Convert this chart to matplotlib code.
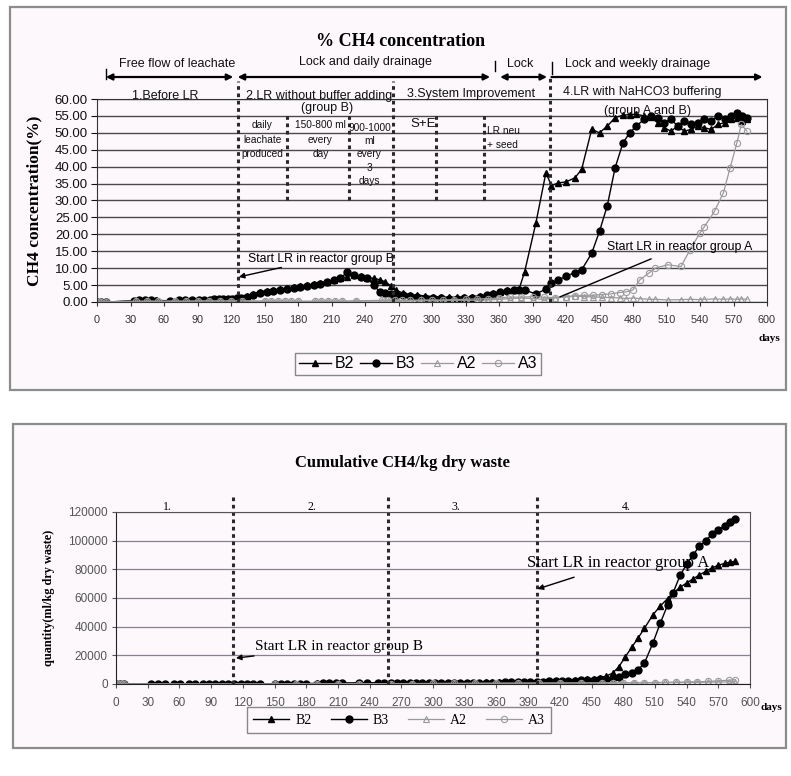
import matplotlib
matplotlib.use('Agg')
import matplotlib.pyplot as plt
from matplotlib.patches import Rectangle
from matplotlib.ticker import FormatStrFormatter

# ---- % CH4 concentration, reactors B2 / B3 (same sampling days) ----
days_b = [0, 4, 8, 33, 38, 43, 48, 53, 65, 73,
          79, 85, 91, 96, 101, 105, 109, 113, 117, 121,
          125, 129, 134, 140, 146, 152, 158, 164, 170, 176,
          182, 188, 194, 200, 206, 212, 218, 224, 230, 236,
          242, 248, 253, 258, 263, 268, 274, 280, 287, 294,
          301, 308, 315, 322, 329, 336, 343, 349, 355, 361,
          367, 373, 378, 383, 393, 402, 407, 413, 420, 428,
          434, 443, 450, 457, 464, 471, 477, 483, 490, 496,
          502, 508, 514, 520, 526, 532, 538, 544, 550, 556,
          562, 568, 573, 578, 582]
ch4_b2 = [0, 0, 0, 0.3, 0.4, 0.5, 0.4, 0.5, 0.3, 0.4,
          0.5, 0.5, 0.6, 0.6, 0.7, 0.7, 0.8, 0.8, 0.9, 1.0,
          1.0, 1.2, 1.8, 2.5, 3.0, 3.3, 3.6, 3.8, 4.0, 4.3,
          4.6, 4.9, 5.2, 5.6, 6.0, 6.5, 7.0, 7.5, 8.0, 7.6,
          7.2, 7.0, 6.6, 6.0, 4.8, 3.5, 2.6, 2.2, 2.0, 1.8,
          1.6, 1.5, 1.4, 1.4, 1.5, 1.6, 1.8, 2.2, 2.6, 3.0,
          3.4, 3.6, 3.8, 9.0, 23.3, 38.2, 34.4, 35.2, 35.5, 36.7,
          39.2, 51.0, 50.0, 52.0, 54.5, 55.2, 55.4, 55.5, 55.0, 54.6,
          53.0, 51.5, 50.5, 52.0, 50.5, 51.0, 52.0, 51.5, 51.0, 52.5,
          53.0, 54.0, 54.5, 53.5, 54.0]
ch4_b3 = [0, 0, 0, 0.3, 0.5, 0.6, 0.5, 0.4, 0.4, 0.5,
          0.5, 0.6, 0.6, 0.7, 0.7, 0.8, 0.8, 0.9, 0.9, 1.0,
          1.1, 1.3, 1.5, 2.0, 2.6, 3.0, 3.3, 3.6, 3.8, 4.1,
          4.4, 4.6, 5.0, 5.3, 5.8, 6.4, 7.0, 8.8, 8.0, 7.5,
          7.0, 5.0, 3.0, 2.6, 2.4, 2.2, 2.0, 1.8, 1.5, 1.3,
          1.2, 1.1, 1.0, 1.0, 1.1, 1.3, 1.6, 2.0, 2.5, 3.0,
          3.3, 3.5, 3.6, 3.5, 2.4, 3.8, 5.5, 6.5, 7.6, 8.7,
          9.5, 14.4, 20.9, 28.5, 39.7, 47.0, 50.0, 52.0, 54.0, 55.0,
          54.5, 53.0, 54.0, 52.0, 53.5, 52.5, 53.0, 54.0, 53.5, 55.0,
          54.0, 55.0, 56.0, 55.0, 54.5]

# ---- % CH4 concentration, reactors A2 / A3 ----
days_a = [0, 4, 8, 35, 45, 55, 70, 80, 90, 100,
          110, 120, 130, 150, 156, 162, 168, 174, 180, 195,
          201, 207, 213, 219, 232, 255, 261, 267, 273, 280,
          290, 300, 310, 320, 330, 340, 350, 360, 370, 380,
          390, 400, 410, 420, 428, 436, 444, 452, 460, 468,
          474, 480, 486, 494, 500, 511, 523, 531, 540, 544,
          553, 561, 567, 573, 577, 582]
ch4_a2 = [0, 0, 0, 0.2, 0.3, 0.2, 0.3, 0.2, 0.3, 0.3,
          0.3, 0.3, 0.3, 0.2, 0.2, 0.2, 0.2, 0.2, 0.2, 0.2,
          0.2, 0.2, 0.2, 0.2, 0.3, 0.3, 0.3, 0.3, 0.3, 0.4,
          0.4, 0.4, 0.4, 0.5, 0.5, 0.5, 0.6, 0.8, 1.0, 1.2,
          1.0, 0.8, 1.2, 1.5, 1.8, 1.6, 1.5, 1.4, 1.3, 1.2,
          1.0, 1.2, 1.0, 0.8, 0.8, 0.6, 0.7, 0.8, 0.7, 0.8,
          0.9, 0.8, 0.9, 0.8, 0.9, 0.8]
ch4_a3 = [0, 0, 0, 0.2, 0.2, 0.2, 0.2, 0.2, 0.3, 0.3,
          0.3, 0.3, 0.4, 0.2, 0.2, 0.2, 0.2, 0.2, 0.2, 0.2,
          0.2, 0.2, 0.2, 0.2, 0.3, 0.5, 0.6, 0.5, 0.5, 0.5,
          0.6, 0.6, 0.6, 0.7, 0.8, 0.9, 1.0, 1.2, 1.5, 1.4,
          1.6, 1.4, 1.3, 1.6, 1.8, 2.0, 2.0, 2.2, 2.4, 2.8,
          3.0, 3.6, 6.5, 8.5, 10.0, 11.0, 10.5, 15.4, 20.4, 22.3,
          26.8, 32.3, 39.7, 47.0, 52.5, 50.5]

# ---- cumulative CH4 (ml/kg dry waste), reactors B2 / B3 ----
days_cb = [0, 4, 8, 33, 40, 46, 55, 61, 69, 75,
           82, 88, 94, 100, 106, 112, 118, 124, 130, 136,
           150, 156, 162, 168, 174, 180, 190, 196, 202, 208,
           214, 230, 238, 248, 254, 260, 266, 272, 278, 284,
           290, 296, 302, 308, 314, 320, 326, 332, 338, 344,
           350, 356, 362, 368, 374, 380, 386, 392, 398, 404,
           410, 416, 422, 428, 434, 440, 446, 452, 458, 464,
           470, 476, 482, 488, 494, 500, 508, 515, 522, 527,
           534, 540, 546, 552, 558, 564, 570, 576, 581, 586]
cum_b2 = [0, 0, 0, 0, 0, 0, 0, 0, 0, 0,
          0, 0, 0, 0, 0, 0, 0, 0, 0, 0,
          50, 100, 150, 200, 250, 300, 380, 430, 480, 530,
          580, 700, 760, 820, 850, 870, 890, 900, 910, 920,
          930, 940, 950, 960, 970, 980, 990, 1000, 1010, 1030,
          1050, 1080, 1110, 1150, 1200, 1300, 1400, 1500, 1600, 1700,
          1850, 2000, 2200, 2400, 2600, 2900, 3300, 3800, 4500, 5500,
          7600, 12100, 19000, 25500, 32000, 38800, 48100, 54400, 59500, 63300,
          67500, 70500, 73300, 76000, 78600, 81000, 82800, 84200, 85000, 85600]
cum_b3 = [0, 0, 0, 0, 0, 0, 0, 0, 0, 0,
          0, 0, 0, 0, 0, 0, 0, 0, 0, 0,
          40, 80, 120, 160, 200, 250, 320, 370, 420, 470,
          520, 640, 700, 760, 790, 810, 830, 840, 850, 860,
          870, 880, 890, 900, 910, 920, 930, 940, 950, 970,
          990, 1010, 1040, 1080, 1120, 1200, 1280, 1360, 1450, 1550,
          1800, 1900, 2000, 2100, 2300, 2500, 2800, 3100, 3400, 3800,
          4300, 5200, 6900, 7800, 10000, 14400, 28400, 42300, 55000, 63300,
          76000, 83500, 90000, 96000, 100000, 104500, 107200, 110500, 113300, 115300]

# ---- cumulative CH4, reactors A2 / A3 ----
days_ca = [0, 4, 8, 150, 170, 190, 210, 230, 260, 280,
           300, 320, 340, 360, 380, 400, 420, 440, 460, 470,
           480, 490, 500, 510, 520, 530, 540, 550, 560, 570,
           580, 586]
cum_a2 = [0, 0, 0, 0, 50, 100, 150, 200, 250, 300,
          350, 400, 450, 500, 550, 600, 650, 700, 750, 800,
          850, 900, 950, 1000, 1050, 1100, 1150, 1200, 1300, 1400,
          1500, 1600]
cum_a3 = [0, 0, 0, 0, 50, 100, 150, 200, 250, 300,
          350, 400, 450, 500, 550, 600, 650, 700, 750, 800,
          850, 900, 950, 1000, 1100, 1200, 1300, 1500, 1800, 2200,
          2600, 3000]

W, H = 791, 776
SANS = ['Liberation Sans', 'DejaVu Sans']
SERIF = ['Liberation Serif', 'DejaVu Serif']
plt.rcParams['font.family'] = SANS

fig = plt.figure(figsize=(W / 100, H / 100), dpi=100)


def px_box(x0, y0, x1, y1):
    # pixel rectangle (origin top-left) -> figure fraction [l, b, w, h]
    return [x0 / W, 1 - y1 / H, (x1 - x0) / W, (y1 - y0) / H]


# panel frames, kept behind the axes
for x0, y0, x1, y1 in [(10, 7, 786, 390), (13, 424, 786, 748)]:
    l, b, w, h = px_box(x0, y0, x1, y1)
    fig.patches.append(Rectangle((l, b), w, h, transform=fig.transFigure, zorder=-10,
                                 facecolor='#fcf8fc', edgecolor='#8c8c8c', lw=1.6))

b_style = dict(color='black', lw=1.0)
a_style = dict(color='#9a9a9a', lw=0.9, markerfacecolor='none', markeredgewidth=0.8)
dash = dict(color='#2a2a2a', lw=2.2, ls=(0, (1.2, 1.2)), clip_on=False)

# ================= top panel: % CH4 =================
ax1 = fig.add_axes(px_box(97, 99, 767, 302))
ax1.set_facecolor('none')
ax1.plot(days_b, ch4_b2, marker='^', ms=4.5, label='B2', **b_style)
ax1.plot(days_b, ch4_b3, marker='o', ms=5, label='B3', **b_style)
ax1.plot(days_a, ch4_a2, marker='^', ms=4.5, label='A2', **a_style)
ax1.plot(days_a, ch4_a3, marker='o', ms=4.5, label='A3', **a_style)

ax1.set_xlim(0, 600)
ax1.set_ylim(0, 60)
ax1.set_xticks(range(0, 601, 30))
ax1.set_yticks(range(0, 61, 5))
ax1.yaxis.set_major_formatter(FormatStrFormatter('%.2f'))
ax1.grid(axis='y', color='#4a4a4a', lw=1.0)
ax1.set_axisbelow(True)
ax1.tick_params(axis='y', labelsize=9.5, length=4, pad=2.5, colors='#111111')
ax1.tick_params(axis='x', labelsize=7.8, length=3, pad=6.5, colors='#333333')
for s in ax1.spines.values():
    s.set_color('#333333')
ax1.set_ylabel('CH4 concentration(%)', family=SERIF, fontweight='bold', fontsize=12.5)
ax1.yaxis.set_label_coords(-0.082, 0.5)
ax1.text(602, -10.7, 'days', family=SERIF, fontweight='bold', fontsize=8, ha='center', va='center')

# phase boundaries
for d in (126, 265):
    ax1.plot([d, d], [0, 65.3], **dash)
ax1.plot([406, 406], [0, 67.0], **dash)
for d in (170, 226, 304, 347):
    ax1.plot([d, d], [30, 55.5], **dash)

# operating regime arrows
y_arr = 66.5
for x0, x1, style in [(8, 122, '<|-|>'), (126, 352, '<|-|>'), (361, 403, '<|-|>'), (407, 596, '-|>')]:
    ax1.annotate('', xy=(x1, y_arr), xytext=(x0, y_arr), annotation_clip=False,
                 arrowprops=dict(arrowstyle=style, color='black', lw=1.6, mutation_scale=9,
                                 shrinkA=0, shrinkB=0))
for d, y0, y1 in [(8, 65.9, 68.8), (356, 68.2, 71.2), (407.5, 67.4, 71.0)]:
    ax1.plot([d, d], [y0, y1], color='black', lw=1.0, clip_on=False)

small = dict(fontsize=9, ha='center', va='center', color='#111111')
note = dict(small, fontsize=7.3)
ax1.text(72, 70.3, 'Free flow of leachate', **small)
ax1.text(240, 70.9, 'Lock and daily drainage', **small)
ax1.text(379, 70.3, 'Lock', **small)
ax1.text(484, 70.3, 'Lock and weekly drainage', **small)

ax1.text(61, 60.8, '1.Before LR', **small)
ax1.text(199, 60.8, '2.LR without buffer adding', **small)
ax1.text(206, 57.3, '(group B)', **small)
ax1.text(148, 48.0, 'daily\nleachate\nproduced', linespacing=1.55, **note)
ax1.text(200, 48.0, '150-800 ml\nevery\nday', linespacing=1.55, **note)
ax1.text(244, 43.6, '900-1000\nml\nevery\n3\ndays', linespacing=1.4, **note)
ax1.text(335, 61.4, '3.System Improvement', **small)
ax1.text(292, 52.5, 'S+E', **dict(small, fontsize=9.5))
ax1.text(349, 48.5, 'LR neu\n+ seed', linespacing=1.5, **dict(note, ha='left'))
ax1.text(488, 62.0, '4.LR with NaHCO3 buffering', **small)
ax1.text(493, 56.4, '(group A and B)', **small)

ax1.annotate('Start LR in reactor group B', xy=(127, 7.4), xytext=(135, 12.8),
             fontsize=8.8, ha='left', va='center',
             arrowprops=dict(arrowstyle='-|>', color='black', lw=1.0, mutation_scale=8,
                             shrinkA=0, shrinkB=0))
ax1.annotate('Start LR in reactor group A', xy=(414.5, 1.5), xytext=(457, 16.3),
             fontsize=8.8, ha='left', va='center',
             arrowprops=dict(arrowstyle='-', color='black', lw=1.0, shrinkA=6, shrinkB=0))

fig.text(401 / W, 1 - 42 / H, '% CH4 concentration', family=SERIF, fontweight='bold',
         fontsize=13, ha='center', va='center')

h1, l1 = ax1.get_legend_handles_labels()
fig.legend(h1, l1, loc='center', bbox_to_anchor=(418 / W, 1 - 364 / H), ncol=4,
           fontsize=11.5, handlelength=2.0, handletextpad=0.25, columnspacing=0.35,
           frameon=True, fancybox=False, edgecolor='#888888', facecolor='#fcf8fc',
           borderpad=0.25, framealpha=1)

# ================= bottom panel: cumulative CH4 =================
ax2 = fig.add_axes(px_box(116, 512, 750, 684))
ax2.set_facecolor('none')
ax2.plot(days_cb, cum_b2, marker='^', ms=5, label='B2', **b_style)
ax2.plot(days_cb, cum_b3, marker='o', ms=5, label='B3', **b_style)
ax2.plot(days_ca, cum_a2, marker='^', ms=4.5, label='A2', **a_style)
ax2.plot(days_ca, cum_a3, marker='o', ms=4.5, label='A3', **a_style)

ax2.set_xlim(0, 600)
ax2.set_ylim(0, 120000)
ax2.set_xticks(range(0, 601, 30))
ax2.set_yticks(range(0, 120001, 20000))
ax2.grid(axis='y', color='#8a8090', lw=0.9)
ax2.set_axisbelow(True)
ax2.tick_params(labelsize=8.5, length=3, colors='#555555')
ax2.tick_params(axis='x', pad=6.5)
ax2.tick_params(axis='y', pad=3)
for s in ax2.spines.values():
    s.set_color('#555555')
ax2.spines['left'].set_color('#222222')
ax2.spines['bottom'].set_color('#222222')
ax2.set_ylabel('quantity(ml/kg dry waste)', family=SERIF, fontweight='bold', fontsize=8.8)
ax2.yaxis.set_label_coords(-0.096, 0.5)
ax2.text(620, -16500, 'days', family=SERIF, fontweight='bold', fontsize=8, ha='center', va='center')

for d in (110.7, 257, 398):
    ax2.plot([d, d], [0, 132600], **dash)
for d, lab in [(49, '1.'), (185, '2.'), (322, '3.'), (483, '4.')]:
    ax2.text(d, 123500, lab, family=SERIF, fontsize=8.5, ha='center', va='center')

ax2.annotate('Start LR in reactor group B', xy=(113.5, 18100), xytext=(131.5, 26500),
             family=SERIF, fontsize=11, ha='left', va='center',
             arrowprops=dict(arrowstyle='-|>', color='black', lw=1.0, mutation_scale=8,
                             shrinkA=4, shrinkB=0))
ax2.annotate('Start LR in reactor group A', xy=(399, 66300), xytext=(389, 84400),
             family=SERIF, fontsize=12, ha='left', va='center',
             arrowprops=dict(arrowstyle='-|>', color='black', lw=1.0, mutation_scale=8,
                             shrinkA=8, shrinkB=0))

fig.text(402 / W, 1 - 463 / H, 'Cumulative CH4/kg dry waste', family=SERIF, fontweight='bold',
         fontsize=12, ha='center', va='center')

h2, l2 = ax2.get_legend_handles_labels()
fig.legend(h2, l2, loc='center', bbox_to_anchor=(399 / W, 1 - 720 / H), ncol=4,
           prop={'family': SERIF, 'size': 10}, handlelength=2.6, handletextpad=0.4,
           columnspacing=1.4, frameon=True, fancybox=False, edgecolor='#888888',
           facecolor='#fcf8fc', borderpad=0.45, framealpha=1)

fig.savefig('out.png', dpi=100, facecolor='white')
